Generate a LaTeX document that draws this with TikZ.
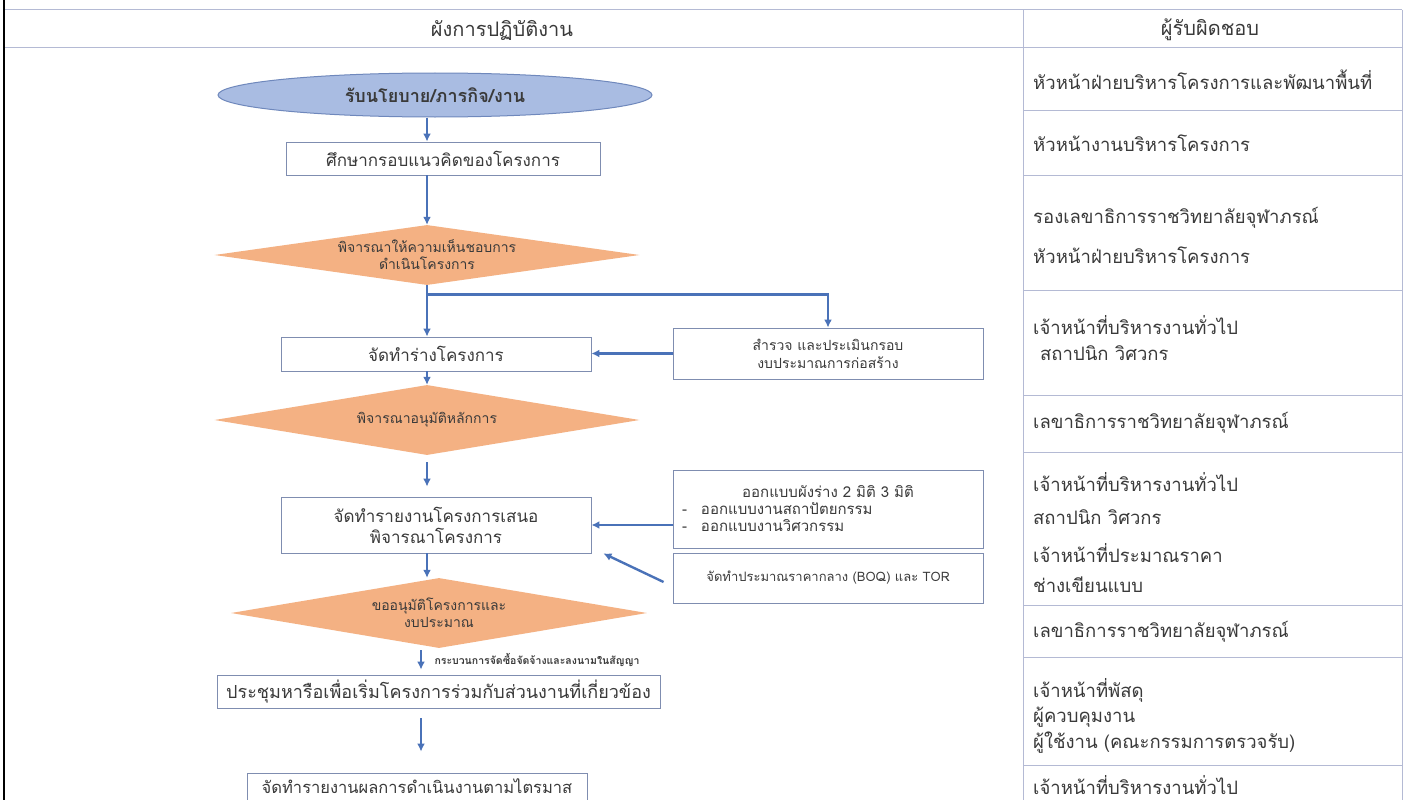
\documentclass[tikz,border=0pt]{standalone}
\usepackage{fontspec}
\setmainfont[Script=Thai]{Loma}
\usetikzlibrary{arrows.meta,shapes.geometric,positioning}

\definecolor{arrowblue}{HTML}{4A72B8}
\definecolor{boxline}{HTML}{7F8DB0}
\definecolor{ellfill}{HTML}{A9BCE2}
\definecolor{ellline}{HTML}{6F88BC}
\definecolor{decfill}{HTML}{F4B183}
\definecolor{gridline}{HTML}{B4BAD4}
\definecolor{txt}{HTML}{3A3A3A}

\tikzset{
  flow/.style={draw=arrowblue, line width=2.4pt, -{Latex[length=8pt,width=8pt]}},
  stepbox/.style={draw=boxline, line width=0.9pt, fill=white, text=txt, inner sep=2pt, align=center, font=\fontsize{17}{21}\selectfont},
  decision/.style={diamond, fill=decfill, text=txt, inner sep=0pt, shape aspect=7, align=center, font=\fontsize{14}{17}\selectfont},
  resp/.style={anchor=west, text=txt, inner sep=0pt, font=\fontsize{18.5}{22}\selectfont},
  headtxt/.style={text=txt, font=\fontsize{20}{24}\selectfont}
}

\begin{document}
\begin{tikzpicture}[x=1pt,y=-1pt]
\useasboundingbox (0,0) rectangle (1408,800);
\fill[white] (0,0) rectangle (1408,800);

% table frame
\draw[gridline, line width=1pt] (5,10) -- (1402,10);
\draw[gridline, line width=1pt] (5,48) -- (1402,48);
\draw[gridline, line width=1pt] (1023,10) -- (1023,800);
\draw[gridline, line width=1pt] (1402,10) -- (1402,800);
\foreach \y in {110,175,290,395,452,605,657,765}
  \draw[gridline, line width=1pt] (1023,\y) -- (1402,\y);
\draw[black, line width=2.5pt] (4,0) -- (4,800);

\node[headtxt] (headflow) at (502,30) {ผังการปฏิบัติงาน};
\node[headtxt] (headresp) at (1210,30) {ผู้รับผิดชอบ};

% flow chart
\coordinate (spine) at (427,0);
\node[ellipse, draw=ellline, line width=1pt, fill=ellfill, minimum width=434, minimum height=44, text=txt, font=\bfseries\fontsize{18}{21}\selectfont] (start) at (435,95) {รับนโยบาย/ภารกิจ/งาน};
\node[stepbox, minimum width=314, minimum height=33] (concept) at (443,158.5) {ศึกษากรอบแนวคิดของโครงการ};
\node[decision, minimum width=425, minimum height=60] (agree) at (427,255) {พิจารณาให้ความเห็นชอบการ\\ดำเนินโครงการ};
\node[stepbox, minimum width=310, minimum height=34] (draft) at (436,354) {จัดทำร่างโครงการ};
\node[stepbox, minimum width=310, minimum height=51, font=\fontsize{14}{18}\selectfont] (survey) at (828,353.5) {สำรวจ และประเมินกรอบ\\งบประมาณการก่อสร้าง};
\node[decision, minimum width=425, minimum height=70] (principle) at (427,420) {พิจารณาอนุมัติหลักการ};
\node[stepbox, minimum width=310, minimum height=56] (report) at (436,525) {จัดทำรายงานโครงการเสนอ\\พิจารณาโครงการ};
\node[stepbox, minimum width=310, minimum height=78, text width=292, align=left, font=\fontsize{15}{17}\selectfont] (design) at (828,509) {\null\hfill ออกแบบผังร่าง 2 มิติ 3 มิติ\hfill\null\\-\hspace{14pt}ออกแบบงานสถาปัตยกรรม\\-\hspace{14pt}ออกแบบงานวิศวกรรม};
\node[stepbox, minimum width=310, minimum height=50, font=\fontsize{13}{16}\selectfont] (boq) at (828,578) {จัดทำประมาณราคากลาง (BOQ) และ TOR};
\node[decision, minimum width=416, minimum height=70] (budget) at (439,613) {ขออนุมัติโครงการและ\\งบประมาณ};
\node[stepbox, minimum width=443, minimum height=33, font=\fontsize{18}{21}\selectfont] (meeting) at (438.5,691.5) {ประชุมหารือเพื่อเริ่มโครงการร่วมกับส่วนงานที่เกี่ยวข้อง};
\node[stepbox, minimum width=340, minimum height=27, font=\fontsize{16.5}{19}\selectfont] (quarter) at (417,786.5) {จัดทำรายงานผลการดำเนินงานตามไตรมาส};

% connectors
\draw[flow, line width=1.8pt] (spine |- start.south) -- (spine |- concept.north);
\draw[flow, line width=2.8pt] (spine |- concept.south) -- (spine |- agree.north);
\draw[flow, line width=2.8pt] (agree.south) -- (agree.south |- draft.north);
\draw[flow, line width=2.8pt] ([yshift=-9pt]agree.south) -| (survey.north);
\draw[flow] (survey.west) -- (survey.west -| draft.east);
\draw[flow, line width=1.8pt] (spine |- draft.south) -- (spine |- principle.north);
\draw[flow] ([yshift=-7pt]spine |- principle.south) -- ([yshift=10pt]spine |- report.north);
\draw[flow] (design.west |- report.east) -- (report.east);
\draw[flow] ([xshift=-9pt,yshift=-4pt]boq.west) -- ([xshift=12pt]report.south east);
\draw[flow, line width=1.8pt] (spine |- report.south) -- (spine |- budget.north);
\draw[flow] ([xshift=-6pt,yshift=-2pt]budget.south -| spine) -- ([xshift=-6pt,yshift=5pt]spine |- meeting.north)
  node[midway, right=9pt, text=txt, font=\bfseries\fontsize{10.5}{12}\selectfont] (procure) {กระบวนการจัดซื้อจัดจ้างและลงนามในสัญญา};
\draw[flow] ([xshift=-6pt,yshift=-10pt]spine |- meeting.south) -- ([xshift=-6pt,yshift=21pt]spine |- quarter.north);

% responsible persons
\node[resp] (resp1) at (1033,80) {หัวหน้าฝ่ายบริหารโครงการและพัฒนาพื้นที่};
\node[resp] (resp2) at (1033,143) {หัวหน้างานบริหารโครงการ};
\node[resp] (resp3a) at (1033,218) {รองเลขาธิการราชวิทยาลัยจุฬาภรณ์};
\node[resp] (resp3b) at (1033,255) {หัวหน้าฝ่ายบริหารโครงการ};
\node[resp] (resp4a) at (1033,325) {เจ้าหน้าที่บริหารงานทั่วไป};
\node[resp] (resp4b) at (1040,353) {สถาปนิก วิศวกร};
\node[resp] (resp5) at (1033,423) {เลขาธิการราชวิทยาลัยจุฬาภรณ์};
\node[resp] (resp6a) at (1033,482) {เจ้าหน้าที่บริหารงานทั่วไป};
\node[resp] (resp6b) at (1033,517) {สถาปนิก วิศวกร};
\node[resp] (resp6c) at (1033,553) {เจ้าหน้าที่ประมาณราคา};
\node[resp] (resp6d) at (1033,585) {ช่างเขียนแบบ};
\node[resp] (resp7) at (1033,632) {เลขาธิการราชวิทยาลัยจุฬาภรณ์};
\node[resp] (resp8a) at (1033,690) {เจ้าหน้าที่พัสดุ};
\node[resp] (resp8b) at (1033,717) {ผู้ควบคุมงาน};
\node[resp] (resp8c) at (1033,743) {ผู้ใช้งาน (คณะกรรมการตรวจรับ)};
\node[resp] (resp9) at (1033,785) {เจ้าหน้าที่บริหารงานทั่วไป};
\end{tikzpicture}
\end{document}
